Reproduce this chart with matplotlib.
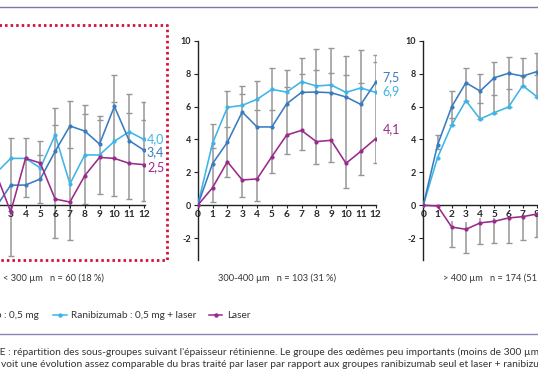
import numpy as np
import matplotlib
matplotlib.use("Agg")
import matplotlib.pyplot as plt
from matplotlib.lines import Line2D

plt.rcParams['font.family'] = ['Lato', 'DejaVu Sans']

W, H = 538, 384

# ---------------- data ----------------
months = list(range(13))

# < 300 µm
left_rani = [0, 1.0, -0.1, 1.22, 1.23, 1.6, 3.28, 4.82, 4.51, 3.72, 6.01, 3.93, 3.35]
left_rani_laser = [0, 1.5, 1.95, 2.85, 2.85, 2.27, 4.27, 1.3, 3.06, 3.06, 3.89, 4.47, 4.0]
left_laser = [0, 1.0, 1.96, -0.4, 2.85, 2.57, 0.38, 0.2, 1.8, 2.91, 2.85, 2.55, 2.47]
left_err_x = [3, 4, 5, 6, 7, 8, 9, 10, 11, 12]
left_err_lo = [-3.06, 0.53, 0.16, -1.96, -2.1, 0.1, 0.69, 0.57, 0.4, 0.28]
left_err_mid = [np.nan, np.nan, 3.08, 4.9, 3.48, 5.55, 5.2, 6.28, 5.6, 5.18]
left_err_hi = [4.09, 4.07, 3.9, 5.89, 6.32, 6.09, 5.43, 7.94, 6.74, 6.26]

# 300-400 µm
mid_rani = [0, 2.53, 3.83, 5.67, 4.76, 4.76, 6.17, 6.86, 6.88, 6.84, 6.58, 6.13, 7.47]
mid_rani_laser = [0, 3.77, 5.95, 6.07, 6.44, 7.04, 6.88, 7.51, 7.25, 7.31, 6.86, 7.13, 6.86]
mid_laser = [0, 1.07, 2.65, 1.54, 1.6, 2.96, 4.27, 4.55, 3.87, 3.95, 2.55, 3.28, 4.05]
mid_err_x = [1, 2, 3, 4, 5, 6, 7, 8, 9, 10, 11, 12]
mid_err_lo = [0.22, 1.74, 0.49, 0.26, 1.94, 3.12, 3.36, 2.53, 2.61, 1.03, 1.82, 2.59]
mid_err_mid = [3.46, 4.74, 6.74, 5.77, 5.77, 7.2, 7.96, 8.2, 8.02, 7.9, 7.45, 8.68]
mid_err_hi = [4.96, 6.94, 7.25, 7.55, 8.32, 8.2, 8.93, 9.47, 9.57, 9.05, 9.41, 9.13]

# > 400 µm
right_rani = [0, 3.66, 5.99, 7.45, 6.94, 7.75, 8.02, 7.85, 8.12, 8.2, 8.1, 8.2, 8.3]
right_rani_laser = [0, 2.89, 4.88, 6.36, 5.24, 5.63, 5.97, 7.27, 6.6, 6.8, 6.7, 6.8, 6.9]
right_laser = [0, -0.04, -1.32, -1.46, -1.07, -0.97, -0.77, -0.69, -0.53, -0.5, -0.45, -0.4, -0.4]
right_err_x = [1, 2, 3, 4, 5, 6, 7, 8]
right_err_lo = [3.4, 4.88, 6.36, 5.24, 5.63, 5.97, 7.27, 6.6]
right_err_mid = [np.nan, 5.32, np.nan, 6.23, 6.7, 7.09, 7.85, 7.9]
right_err_hi = [4.27, 6.94, 8.32, 7.96, 8.68, 8.99, 8.93, 9.23]
right_lerr_x = [2, 3, 4, 5, 6, 7, 8]
right_lerr_lo = [-2.55, -2.87, -2.37, -2.31, -2.31, -2.13, -1.9]
right_lerr_hi = [-0.95, -1.0, -0.75, -0.75, -0.7, -0.6, -0.5]

end_labels_left = ["4,0", "3,4", "2,5"]
end_labels_mid = ["7,5", "6,9", "4,1"]
yticks = [-2, 0, 2, 4, 6, 8, 10]

subtitles = ["< 300 µm   n = 60 (18 %)", "300-400 µm   n = 103 (31 %)", "> 400 µm   n = 174 (51 %)"]
legend_labels = ["Ranibizumab : 0,5 mg", "Ranibizumab : 0,5 mg + laser", "Laser"]
caption_prefix = "FIGUR"
caption = ["FIGURE : répartition des sous-groupes suivant l'épaisseur rétinienne. Le groupe des œdèmes peu importants (moins de 300 µm)",
           "voit une évolution assez comparable du bras traité par laser par rapport aux groupes ranibizumab seul et laser + ranibizumab."]

C_RANI = '#3a7cc0'
C_RL = '#3db5e8'
C_LAS = '#9a2a8b'
C_ERR = '#969696'
C_TXT = '#333333'

fig = plt.figure(figsize=(W / 100, H / 100), dpi=100)

def fx(px):
    return px / W

def fy(py):
    return 1 - py / H

Y0_PX = 205.3
Y_PER = 16.46
YMIN, YMAX = -3.3, 10
XMAX = 12.05
ax_h_px = (YMAX - YMIN) * Y_PER
ax_bottom_px = Y0_PX - YMIN * Y_PER


def make_ax(x0_px, x_per, show_x, show_y=True):
    ax = fig.add_axes([fx(x0_px), fy(ax_bottom_px), XMAX * x_per / W, ax_h_px / H])
    ax.set_xlim(0, XMAX)
    ax.set_ylim(YMIN, YMAX)
    ax.patch.set_alpha(0)
    for s in ['top', 'right']:
        ax.spines[s].set_visible(False)
    ax.spines['bottom'].set_position(('data', 0))
    for s in ['left', 'bottom']:
        ax.spines[s].set_color('#222222')
        ax.spines[s].set_linewidth(1.0)
    ax.set_xticks(months)
    ax.set_xticklabels([str(m) if m in show_x else '' for m in months])
    ax.set_yticks(yticks)
    ax.set_yticklabels([str(t) if show_y else '' for t in yticks])
    ax.tick_params(axis='x', length=2, width=0.8, pad=1.5, labelsize=7.3, colors='#222222')
    ax.tick_params(axis='y', length=3, width=0.8, pad=2, labelsize=6.5, colors='#222222')
    for lab in ax.get_xticklabels() + ax.get_yticklabels():
        lab.set_fontweight('bold')
        lab.set_color('#2a2a2a')
    return ax


def err(ax, xs, lo, mid, hi, top_cap=True):
    for i, x in enumerate(xs):
        ax.vlines(x, lo[i], hi[i], color=C_ERR, lw=1.1, zorder=1)
        caps = [lo[i]]
        if top_cap:
            caps.append(hi[i])
        if mid is not None and not np.isnan(mid[i]):
            caps.append(mid[i])
        ax.plot([x] * len(caps), caps, ls='none', marker='_', ms=4.5, mew=1.0, color=C_ERR, zorder=1)


def series(ax, a, b, c):
    ax.plot(months, b, color=C_RL, lw=1.15, marker='o', ms=2.0, zorder=3)
    ax.plot(months, a, color=C_RANI, lw=1.15, marker='o', ms=2.0, zorder=3)
    ax.plot(months, c, color=C_LAS, lw=1.15, marker='o', ms=2.0, zorder=3)


# left panel (partly outside the figure)
axL = make_ax(10.7 - 3 * 14.81, 14.81, show_x=list(range(3, 13)), show_y=False)
err(axL, left_err_x, left_err_lo, left_err_mid, left_err_hi)
series(axL, left_rani, left_rani_laser, left_laser)
axL.text(12.2, left_rani_laser[12] + 0.0, end_labels_left[0], color=C_RL, fontsize=9, va='center', ha='left')
axL.text(12.2, left_rani[12] - 0.15, end_labels_left[1], color=C_RANI, fontsize=9, va='center', ha='left')
axL.text(12.2, left_laser[12] - 0.15, end_labels_left[2], color=C_LAS, fontsize=9, va='center', ha='left')

# middle panel
axM = make_ax(197.7, 14.83, show_x=months)
err(axM, mid_err_x, mid_err_lo, mid_err_mid, mid_err_hi)
series(axM, mid_rani, mid_rani_laser, mid_laser)
axM.text(12.45, mid_rani[12] + 0.3, end_labels_mid[0], color=C_RANI, fontsize=9, va='center', ha='left')
axM.text(12.45, mid_rani_laser[12] + 0.1, end_labels_mid[1], color=C_RL, fontsize=9, va='center', ha='left')
axM.text(12.45, mid_laser[12] + 0.6, end_labels_mid[2], color=C_LAS, fontsize=9, va='center', ha='left')

# right panel (partly outside the figure)
axR = make_ax(423.3, 14.2, show_x=list(range(0, 9)))
err(axR, right_err_x, right_err_lo, right_err_mid, right_err_hi)
err(axR, right_lerr_x, right_lerr_lo, None, right_lerr_hi, top_cap=False)
series(axR, right_rani, right_rani_laser, right_laser)

# red dotted frame around the left panel
fig.add_artist(Line2D([fx(-5), fx(167), fx(167), fx(-5)], [fy(25), fy(25), fy(259.5), fy(259.5)],
                      transform=fig.transFigure, color='#d3103c', lw=2.0, ls=(0, (0.9, 1.1)),
                      solid_capstyle='butt'))

# horizontal rules
fig.add_artist(Line2D([0, 1], [fy(7), fy(7)], transform=fig.transFigure, color='#7d76a6', lw=1.0))
fig.add_artist(Line2D([0, 1], [fy(333.5), fy(333.5)], transform=fig.transFigure, color='#8a84b0', lw=1.0))

# subtitles
SUB_FS = 6.7
fig.text(fx(3), fy(278), subtitles[0], fontsize=SUB_FS, color=C_TXT, ha='left', va='center')
fig.text(fx(218), fy(278), subtitles[1], fontsize=SUB_FS, color=C_TXT, ha='left', va='center')
fig.text(fx(443), fy(278), subtitles[2], fontsize=SUB_FS, color=C_TXT, ha='left', va='center')

# legend
fig.text(fx(39), fy(315), legend_labels[0], fontsize=7.2, color=C_TXT, ha='right', va='center')
for (x0, x1, col, tx, lab) in [(53, 67, C_RL, 71, legend_labels[1]), (209, 222, C_LAS, 227, legend_labels[2])]:
    fig.add_artist(Line2D([fx(x0), fx(x1)], [fy(315), fy(315)], transform=fig.transFigure, color=col, lw=1.1))
    fig.add_artist(Line2D([fx((x0 + x1) / 2)], [fy(315)], transform=fig.transFigure, color=col,
                          marker='o', ms=2.2, ls='none'))
    fig.text(fx(tx), fy(315), lab, fontsize=7.2, color=C_TXT, ha='left', va='center')

# caption (cropped at the left, like the reference)
CAP_FS = 7.4
probe = fig.text(0, 0, caption_prefix, fontsize=CAP_FS)
fig.canvas.draw()
pw = probe.get_window_extent().width
probe.remove()
fig.text(fx(-pw - 0.5), fy(352.7), caption[0], fontsize=CAP_FS, color=C_TXT, ha='left', va='center')
fig.text(fx(1), fy(364.3), caption[1], fontsize=CAP_FS, color=C_TXT, ha='left', va='center')

fig.savefig('out.png', dpi=100)
